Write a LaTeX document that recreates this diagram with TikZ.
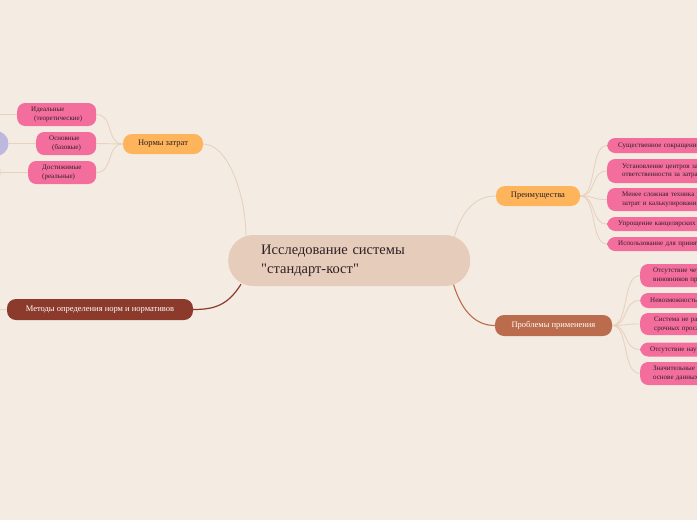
\documentclass[tikz,border=0pt]{standalone}
\usepackage{fontspec}
\setmainfont{Liberation Serif}[Ligatures=TeXOff]
\usetikzlibrary{backgrounds,calc}
\definecolor{bgc}{HTML}{F4ECE3}
\definecolor{cent}{HTML}{E6CDBB}
\definecolor{orng}{HTML}{FDB45B}
\definecolor{pnk}{HTML}{F36D9D}
\definecolor{purp}{HTML}{BDB8DE}
\definecolor{meth}{HTML}{8C3A2B}
\definecolor{prob}{HTML}{BA6C4C}
\definecolor{lline}{HTML}{E8D2BE}
\definecolor{txt}{HTML}{2E2024}
\begin{document}
\begin{tikzpicture}[x=1pt,y=-1pt,
  conn/.style={draw=lline, line width=0.9pt},
  pinkn/.style={fill=pnk, rounded corners=8pt, inner ysep=0pt, font=\fontsize{7}{8.5}\selectfont, text=txt, align=left, anchor=west},
  mainn/.style={rounded corners=9pt, inner sep=0pt, font=\fontsize{8.5}{10}\selectfont, anchor=center}]
\useasboundingbox (0,0) rectangle (697,520);
\clip (0,0) rectangle (697,520);

% main nodes
\node[fill=cent, rounded corners=25pt, minimum height=51pt, inner xsep=33pt, inner ysep=0pt, text width=176pt, align=left, anchor=west, text=txt, font=\fontsize{14.5}{19}\selectfont] (c) at (228,260.5) {Исследование системы\\"стандарт-кост"};
\node[mainn, fill=orng, minimum width=80pt, minimum height=20pt, text=txt] (norm) at (163,144) {Нормы затрат};
\node[mainn, fill=orng, minimum width=84pt, minimum height=20pt, text=txt] (adv) at (538,196) {Преимущества};
\node[mainn, fill=prob, minimum width=117pt, minimum height=21pt, text=white] (prb) at (553.5,325.5) {Проблемы применения};
\node[mainn, fill=meth, minimum width=186pt, minimum height=21pt, text=white] (mth) at (100,309.5) {Методы определения норм и нормативов};

% left pink nodes
\node[pinkn, inner xsep=14pt, text width=51pt, minimum height=23pt] (ideal) at (17,114.5) {Идеальные\\\hspace*{3pt}(теоретические)};
\node[pinkn, inner xsep=13pt, text width=34pt, minimum height=23pt] (base) at (36,143.5) {Основные\\\hspace*{3pt}(базовые)};
\node[pinkn, inner xsep=14pt, text width=40pt, minimum height=23pt] (reach) at (28,172.5) {Достижимые\\(реальные)};
\node[circle, fill=purp, minimum size=25pt, inner sep=0pt] (pc) at (-4,143.5) {};
\node[circle, fill=cent!60!bgc, minimum size=22pt, inner sep=0pt] (pc2) at (-10,172.5) {};
\coordinate (le1) at (-2,114.5);
\coordinate (le3) at (-2,309.5);

% right pink nodes (advantages)
\node[pinkn, inner xsep=11pt, text width=180pt, minimum height=15pt] (a1) at (607,145.5) {Существенное сокращение затрат};
\node[pinkn, inner xsep=15pt, text width=180pt, minimum height=24pt] (a2) at (607,171) {Установление центров затрат и\\ответственности за затраты};
\node[pinkn, inner xsep=15pt, text width=180pt, minimum height=23pt] (a3) at (607,199.5) {Менее сложная техника учета\\затрат и калькулирования};
\node[pinkn, inner xsep=11pt, text width=180pt, minimum height=14pt] (a4) at (607,224) {Упрощение канцелярских работ};
\node[pinkn, inner xsep=11pt, text width=180pt, minimum height=14pt] (a5) at (607,244) {Использование для принятия решений};

% right pink nodes (problems)
\node[pinkn, inner xsep=13pt, text width=160pt, minimum height=23pt] (p1) at (640,275.5) {Отсутствие четкого выявления\\виновников превышения};
\node[pinkn, inner xsep=10pt, text width=160pt, minimum height=15pt] (p2) at (640,300.5) {Невозможность учета};
\node[pinkn, inner xsep=14pt, text width=160pt, minimum height=22pt] (p3) at (640,324) {Система не работает без\\срочных прослеживаний};
\node[pinkn, inner xsep=10pt, text width=160pt, minimum height=14pt] (p4) at (640,349.5) {Отсутствие научно обоснованных норм};
\node[pinkn, inner xsep=13pt, text width=160pt, minimum height=23pt] (p5) at (640,373.5) {Значительные отклонения на\\основе данных};

\begin{scope}[on background layer]
\fill[bgc] (-10,-10) rectangle (710,530);
% central connectors
\draw[conn] (norm.east) .. controls (228,144) and (246,195) .. ($(c.north west)+(18,2)$);
\draw[conn] ($(c.north east)+(-16,2)$) .. controls (462,210) and (476,196) .. (adv.west);
\draw[draw=prob, line width=1.1pt] ($(c.south east)+(-17,-2)$) .. controls (462,312) and (476,325.5) .. (prb.west);
\draw[draw=meth, line width=1.2pt] ($(c.south west)+(13,-2)$) .. controls (228,305) and (215,309.5) .. (mth.east);
% left children
\draw[conn] (norm.west) .. controls (106,144) and (114,114.5) .. (ideal.east);
\draw[conn] (norm.west) -- (base.east);
\draw[conn] (norm.west) .. controls (106,144) and (114,172.5) .. (reach.east);
\draw[conn] (base.west) -- (pc);
\draw[conn] (reach.west) -- (pc2);
\draw[conn] (ideal.west) -- (le1);
\draw[conn] (mth.west) -- (le3);
% advantages children
\foreach \n in {a1,a2,a3,a4,a5}{
  \draw[conn] (adv.east) .. controls (597,196) and (590,0|-\n.west) .. (\n.west);
}
% problems children
\foreach \n in {p1,p2,p3,p4,p5}{
  \draw[conn] (prb.east) .. controls (629,325.5) and (622,0|-\n.west) .. (\n.west);
}
\end{scope}
\end{tikzpicture}
\end{document}
